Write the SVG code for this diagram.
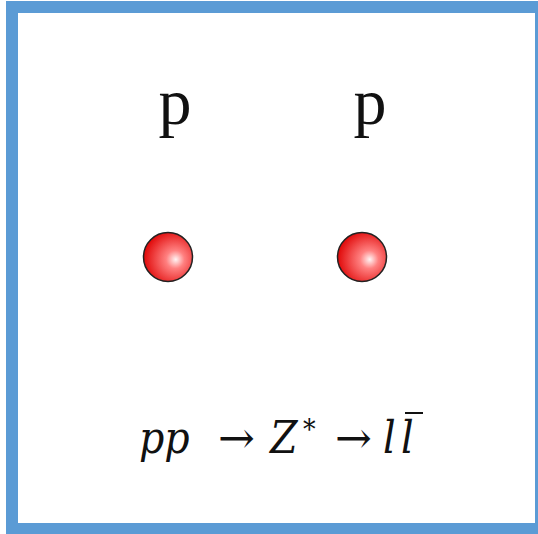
<svg xmlns="http://www.w3.org/2000/svg" width="538" height="534" viewBox="0 0 538 534">
<defs>
<radialGradient id="ball" cx="0.62" cy="0.55" r="0.62" fx="0.66" fy="0.55">
<stop offset="0" stop-color="#fff4f4"/>
<stop offset="0.3" stop-color="#ff8080"/>
<stop offset="1" stop-color="#e00808"/>
</radialGradient>
<style>
.lbl{font-family:"Liberation Serif",serif;font-size:66px;fill:#111}
.math{font-family:"DejaVu Serif Condensed","DejaVu Serif",serif;font-stretch:condensed;font-style:italic;font-size:44px;fill:#111}
.ar{font-family:"DejaVu Serif",serif;font-stretch:normal;font-style:normal;font-size:44px}
.ball{fill:url(#ball);stroke:#222;stroke-width:1.5}
</style>
</defs>
<rect x="0" y="0" width="538" height="534" fill="#fff"/>
<rect x="12" y="7" width="529" height="522" fill="none" stroke="#5b9bd5" stroke-width="12"/>
<g id="label-p1"><text class="lbl" x="175" y="124" text-anchor="middle">p</text></g>
<g id="label-p2"><text class="lbl" x="370" y="124" text-anchor="middle">p</text></g>
<g id="proton1"><circle class="ball" cx="168" cy="257" r="24.5"/></g>
<g id="proton2"><circle class="ball" cx="362" cy="257" r="24.5"/></g>
<g id="connectors"></g>
<g id="formula">
<text class="math" y="453"><tspan x="139">pp</tspan><tspan class="ar" x="218" y="453">→</tspan><tspan x="270" y="453">Z</tspan><tspan x="303" y="439" font-size="28" font-style="normal">*</tspan><tspan class="ar" x="335" y="453">→</tspan><tspan x="383" y="453">l</tspan><tspan x="401" y="453">l</tspan></text>
<line x1="405" y1="413" x2="423" y2="413" stroke="#111" stroke-width="2"/>
</g>
</svg>
